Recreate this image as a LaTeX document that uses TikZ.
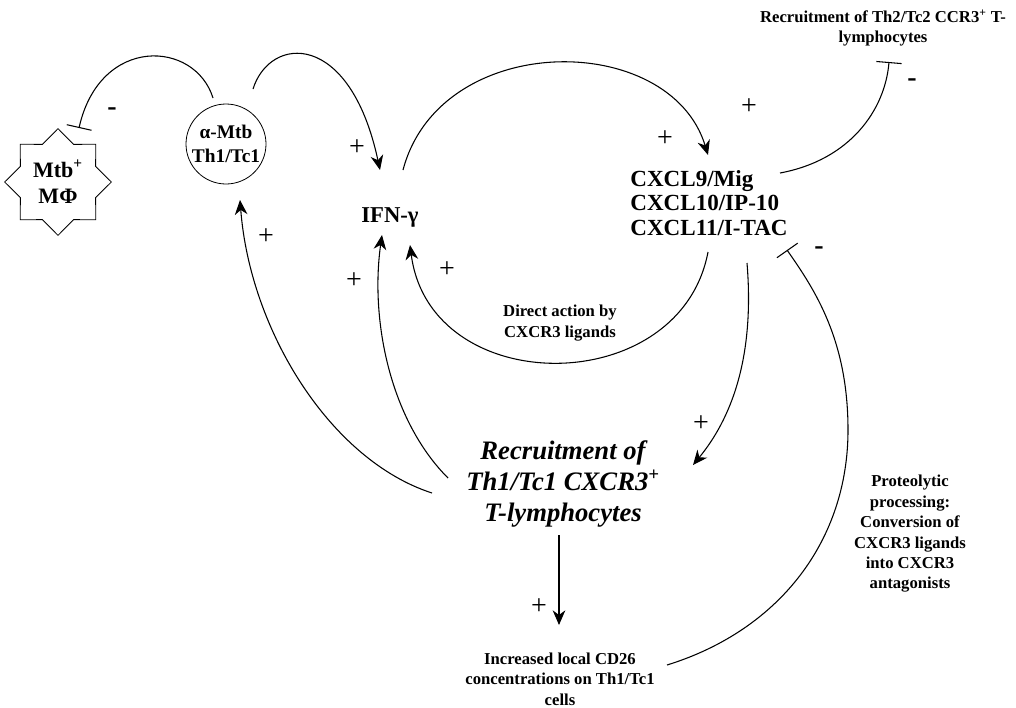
\documentclass[tikz,border=0pt]{standalone}
\usepackage{fontspec}
\setmainfont{Liberation Serif}
\usepackage{tikz}
\usetikzlibrary{shapes.geometric,arrows.meta}

\begin{document}
\begin{tikzpicture}[x=0.75pt,y=-0.75pt,line width=0.8pt,
	act/.style={-{Stealth[length=11pt,width=9.5pt,inset=3.5pt]}},
	inh/.style={-{Bar[width=19pt]}},
	sign/.style={font=\fontsize{21}{21}\selectfont,inner sep=0pt},
	lbl/.style={font=\fontsize{12.5}{15.3}\selectfont\bfseries,align=center,inner sep=0pt}]
				\useasboundingbox (0,0) rectangle (1016,707);
				\node[star,star points=8,star point ratio=1.31,minimum size=80pt,inner sep=0pt,draw,line width=0.6pt,
					font=\fontsize{16.5}{20}\selectfont\bfseries,align=center] (mac) at (58,182) {Mtb\textsuperscript{+}\\MΦ};
				\node[circle,draw,line width=0.6pt,minimum size=60pt,inner sep=0pt,
					font=\fontsize{14.5}{18}\selectfont\bfseries,align=center] (th) at (226,144) {α-Mtb\\Th1/Tc1};
				\node[font=\fontsize{17}{18}\selectfont\bfseries,inner sep=0pt] (ifn) at (390,217) {IFN-γ};
				\node[font=\fontsize{17.3}{18.5}\selectfont\bfseries,align=left,inner sep=0pt] (cxcl) at (709,203) {CXCL9/Mig\\CXCL10/IP-10\\CXCL11/I-TAC};
				\node[lbl] (th2) at (883,28) {Recruitment of Th2/Tc2 CCR3\textsuperscript{+} T-\\lymphocytes};
				\node[font=\fontsize{20}{23}\selectfont\bfseries\itshape,align=center,inner sep=0pt] (rec) at (563,484)
					{Recruitment of\\Th1/Tc1 CXCR3\textsuperscript{+}\\T-lymphocytes};
				\node[lbl] (cd26) at (560,679) {Increased local CD26\\concentrations on Th1/Tc1\\cells};
				\node[lbl] (prot) at (910,534) {Proteolytic\\processing:\\Conversion of\\CXCR3 ligands\\into CXCR3\\antagonists};
				\node[lbl] (direct) at (560,323) {Direct action by\\CXCR3 ligands};

				\draw[inh] ([shift={(-13,-46)}]th.center) .. controls (195,40) and (100,35) .. ([shift={(21,-54)}]mac.center);
				\draw[act] ([shift={(27,-55)}]th.center) .. controls (270,35) and (350,30) .. ([shift={(-10,-47)}]ifn.center);
				\draw[act] ([shift={(13,-47)}]ifn.center) .. controls (440,30) and (670,30) .. ([shift={(-1,-48)}]cxcl.center);
				\draw[inh] ([shift={(71,-30)}]cxcl.center) .. controls (850,160) and (885,110) .. ([shift={(6,34)}]th2.center);
				\draw[act] ([shift={(-1,49)}]cxcl.center) .. controls (680,400) and (430,400) .. ([shift={(20,28)}]ifn.center);
				\draw[act] ([shift={(38,60)}]cxcl.center) .. controls (755,360) and (730,420) .. ([shift={(130,-19)}]rec.center);
				\draw[inh] ([shift={(107,-14)}]cd26.center) .. controls (780,630) and (848,540) .. (848,430)
					.. controls (848,340) and (815,290) .. ([shift={(78,47)}]cxcl.center);
				\draw[act] ([shift={(-131,9)}]rec.center) .. controls (330,460) and (250,330) .. ([shift={(14,56)}]th.center);
				\draw[act] ([shift={(-115,-6)}]rec.center) .. controls (390,420) and (370,320) .. ([shift={(-8,18)}]ifn.center);
				\draw[act] ([shift={(-4,51)}]rec.center) -- ([shift={(-1,-54)}]cd26.center);

				\foreach \x/\y [count=\i] in {357/148,665/139,749/107,266/237,354/281,447/270,701/424,539/607} {
					\node[sign] (plus\i) at (\x,\y) {+};
				}
				\foreach \x/\y [count=\i] in {112/112,912/83,819/251} {
					\node[sign,font=\fontsize{21}{21}\selectfont\bfseries] (minus\i) at (\x,\y) {-};
				}
\end{tikzpicture}
\end{document}
